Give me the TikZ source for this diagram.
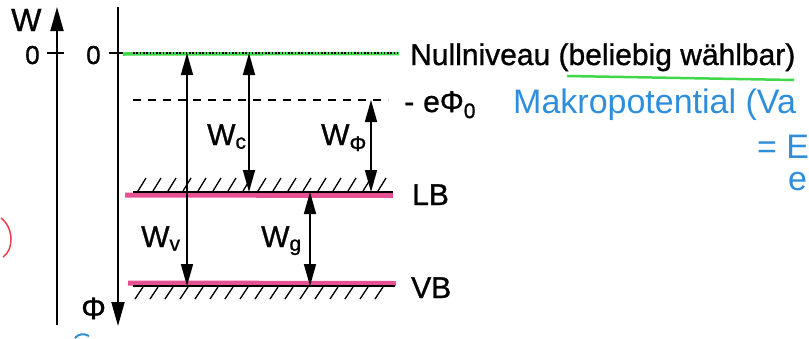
\documentclass[tikz,border=0pt]{standalone}
\usepackage{fontspec}
\setmainfont{Liberation Sans}[FakeBold=1.0]
\newfontfamily\handfont{Liberation Sans}
\usetikzlibrary{arrows.meta}
\definecolor{hlg}{HTML}{3FD84A}
\definecolor{hlm}{HTML}{E0337F}
\definecolor{handblue}{HTML}{2F8EDC}
\definecolor{handred}{HTML}{E8404E}
\begin{document}
\begin{tikzpicture}[x=1pt,y=-1pt,
  txt/.style={inner sep=0pt,font=\fontsize{30}{35}\selectfont},
  small/.style={inner sep=0pt,font=\fontsize{26}{30}\selectfont},
  ax/.style={line width=1.8pt},
  axtip/.style={-{Triangle[length=24pt,width=13pt]}},
  darr/.style={line width=1.7pt,{Triangle[length=22pt,width=12pt]}-{Triangle[length=22pt,width=12pt]}},
  lvl/.style={line width=2.2pt},
  hatchline/.style={line width=1.3pt},
  hlgreen/.style={line width=3.5pt,draw=hlg},
  hlmag/.style={line width=5pt,draw=hlm,opacity=.85},
  hand/.style={inner sep=0pt,text=handblue,font=\handfont\fontsize{34}{40}\selectfont}]
\useasboundingbox (0,0) rectangle (809,338);
\clip (0,0) rectangle (809,338);

% axes
\coordinate (Wbot) at (57,325);
\coordinate (Wtop) at (57,7);
\draw[ax,axtip] (Wbot) -- (Wtop);
\coordinate (Ptop) at (118,7);
\coordinate (Pbot) at (118,326);
\draw[ax,axtip] (Ptop) -- (Pbot);
\draw[ax] (47,53) -- (64,53);
\draw[ax] (109,53) -- (123,53);

\node[inner sep=0pt,font=\fontsize{32}{36}\selectfont,anchor=base west] (Wlab) at (11,31) {W};
\node[small,anchor=base west] (zeroA) at (25,64) {0};
\node[small,anchor=base west] (zeroB) at (86,64) {0};
\node[inner sep=0pt,font=\fontsize{31}{35}\selectfont,anchor=base west] (Philab) at (81,319) {Φ};

% null level
\draw[hlgreen] (123,54) -- (399,53.5);
\coordinate (N0) at (133,53);
\coordinate (N1) at (398,53);
\draw[line width=1.8pt,dash pattern=on 1.6pt off 1.7pt] (N0) -- (N1);
\node[txt,anchor=base west] (nulllab) at (410,65) {Nullniveau (beliebig wählbar)};
\draw[hlgreen,line width=2.5pt] (567,76) -- (794,80);

% -e Phi_0 level
\coordinate (D0) at (133,100);
\coordinate (D1) at (388,100);
\draw[line width=1.7pt,dash pattern=on 8pt off 7pt] (D0) -- (D1);
\node[txt,anchor=base west] (philab) at (404,112) {-\hspace{0.3em}eΦ\textsubscript{0}};

% LB
\draw[hlmag] (125,195) -- (393,195.5);
\coordinate (L0) at (133,192);
\coordinate (L1) at (393,192);
\draw[lvl] (L0) -- (L1);
\foreach \x in {138,153,...,385} \draw[hatchline] (\x,191) -- (\x+8,178);
\node[txt,anchor=base west] (LBlab) at (412,205) {LB};

% VB
\draw[hlmag] (128,283) -- (396,283.5);
\coordinate (V0) at (133,286);
\coordinate (V1) at (395,286);
\draw[lvl] (V0) -- (V1);
\foreach \x in {135,150,...,385} \draw[hatchline] (\x,299) -- (\x+8,287);
\node[txt,anchor=base west] (VBlab) at (411,298) {VB};

% arrows
\coordinate (av0) at (187,53);  \coordinate (av1) at (187,286);
\coordinate (ac0) at (249,53);  \coordinate (ac1) at (249,192);
\coordinate (ap0) at (371,100); \coordinate (ap1) at (371,192);
\coordinate (ag0) at (310,192); \coordinate (ag1) at (310,286);
\draw[darr] (av0) -- (av1);
\draw[darr] (ac0) -- (ac1);
\draw[darr] (ap0) -- (ap1);
\draw[darr] (ag0) -- (ag1);
\node[txt,anchor=base west] (Wv) at (141,247) {W\textsubscript{v}};
\node[txt,anchor=base west] (Wc) at (207,145) {W\textsubscript{c}};
\node[txt,anchor=base west] (Wphi) at (321,145) {W\textsubscript{Φ}};
\node[txt,anchor=base west] (Wg) at (261,247) {W\textsubscript{g}};

% handwritten notes
\node[hand,anchor=base west] (note1) at (513,113) {Makropotential (Va};
\node[hand,anchor=base west] (note2) at (757,158) {= E};
\node[hand,anchor=base west] (note3) at (788,190) {e};
\draw[handred,line width=1.5pt] (1,218) .. controls (14,228) and (14,250) .. (3,257);
\draw[handblue,line width=2pt] (75,338) .. controls (78,334) and (84,333) .. (89,336);
\end{tikzpicture}
\end{document}
